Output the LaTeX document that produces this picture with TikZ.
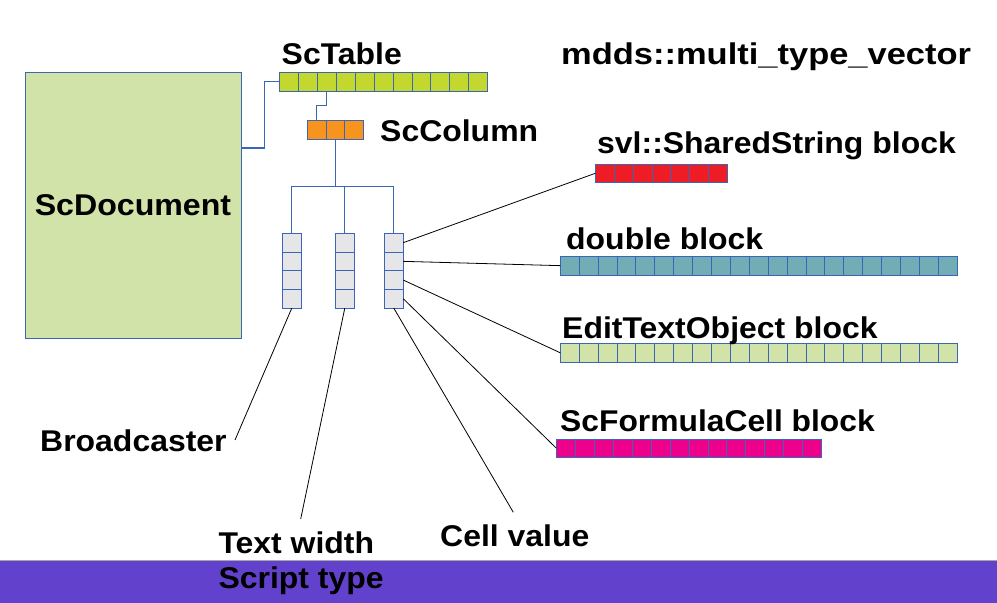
\documentclass[tikz,border=0pt]{standalone}
\usepackage{fontspec}
\usepackage{graphicx}
\setmainfont{Liberation Sans}
\definecolor{edge}{HTML}{3A66B5}
\definecolor{docfill}{HTML}{D1E3A8}
\definecolor{tabfill}{HTML}{C3D82E}
\definecolor{colfill}{HTML}{F7941D}
\definecolor{stackfill}{HTML}{E6E6E8}
\definecolor{ssfill}{HTML}{EE1C25}
\definecolor{dblfill}{HTML}{72ACB4}
\definecolor{etofill}{HTML}{D1E3A8}
\definecolor{fcfill}{HTML}{EC008C}
\definecolor{barfill}{HTML}{6242CC}
\newcommand{\wtxt}[2][1.065]{\scalebox{#1}[1]{#2}}
\tikzset{
  cellbox/.style={draw=edge, line width=0.9pt, inner sep=0, outer sep=0, anchor=north west},
  tree/.style={draw=edge, line width=1.1pt},
  link/.style={draw=black, line width=0.8pt},
  lbl/.style={anchor=base west, inner sep=0, font=\bfseries\fontsize{30}{36}\selectfont},
}
% name, x, ytop, cell width, height, n, colour
\newcommand{\cellrow}[7]{%
  \foreach \i in {1,...,#6} {%
    \node[cellbox, fill=#7, minimum width=#4pt, minimum height=#5pt] (#1-\i) at ({#2+(\i-1)*#4}, #3) {};
  }%
}
\newcommand{\cellcol}[7]{%
  \foreach \i in {1,...,#6} {%
    \node[cellbox, fill=#7, minimum width=#4pt, minimum height=#5pt] (#1-\i) at (#2, {#3+(\i-1)*#5}) {};
  }%
}
\begin{document}
\begin{tikzpicture}[x=1pt, y=-1pt]
\useasboundingbox (0,0) rectangle (997,603);
% bottom bar
\fill[barfill] (0,560) rectangle (997,603);
\draw[gray!70, line width=0.8pt] (0,560.4) -- (997,560.4);

% ScDocument
\node[draw=edge, line width=0.9pt, fill=docfill, minimum width=216pt, minimum height=266pt, inner sep=0,
      font=\bfseries\fontsize{30}{36}\selectfont] (doc) at (133,205) {\wtxt[1.071]{ScDocument}};

% ScTable
\cellrow{tab}{279.3}{72.3}{18.95}{19}{11}{tabfill}
\node[lbl] (tablbl) at (281.5,64.3) {\wtxt{ScTable}};
% ScColumn
\cellrow{col}{307.3}{120.3}{18.8}{19}{3}{colfill}
\node[lbl] (collbl) at (380,141) {\wtxt{ScColumn}};
% title
\node[lbl] (mdds) at (561,64.3) {\wtxt[1.149]{mdds::multi\_type\_vector}};

% stacks
\cellcol{sa}{282.3}{233.3}{19}{18.7}{4}{stackfill}
\cellcol{sb}{335.3}{233.3}{19}{18.7}{4}{stackfill}
\cellcol{sc}{384.3}{233.3}{19}{18.7}{4}{stackfill}

% blocks
\cellrow{ss}{595.3}{164.3}{18.9}{18}{7}{ssfill}
\cellrow{dbl}{560.3}{256}{18.9}{19.3}{21}{dblfill}
\cellrow{eto}{560.3}{343.3}{18.9}{19}{21}{etofill}
\cellrow{fc}{556.3}{439}{18.96}{18.3}{14}{fcfill}

\node[lbl] (sslbl) at (597,153) {\wtxt{svl::SharedString block}};
\node[lbl] (dbllbl) at (566,249) {\wtxt{double block}};
\node[lbl] (etolbl) at (562,338) {\wtxt{EditTextObject block}};
\node[lbl] (fclbl) at (560,431) {\wtxt[1.06]{ScFormulaCell block}};

\node[lbl] (bc) at (40,451) {\wtxt{Broadcaster}};
\node[lbl] (tw) at (218.3,553.3) {\wtxt{Text width}};
\node[lbl] (st) at (218.3,588.3) {\wtxt{Script type}};
\node[lbl] (cv) at (440,546) {\wtxt{Cell value}};

% tree connectors
\draw[tree] ([yshift=57pt]doc.east) -- ++(23,0) |- (tab-1.west);
\draw[tree] (tab-3.south) -- ++(0,14) -| (col-1.north);
\draw[tree] (col-2.south) -- ++(0,47) coordinate (br);
\draw[tree] (br) -| (sa-1.north);
\draw[tree] (br) -| (sc-1.north);
\draw[tree] (br -| sb-1.north) -- (sb-1.north);

% links to blocks
\draw[link] (sc-1.east) -- (ss-1.west);
\draw[link] (sc-2.east) -- (dbl-1.west);
\draw[link] (sc-3.east) -- (eto-1.west);
\draw[link] (sc-4.east) -- (fc-1.west);

% links to labels
\coordinate (bcend) at (235,440);
\coordinate (twend) at (300.7,519);
\coordinate (cvend) at (513.3,512.3);
\draw[link] (sa-4.south) -- (bcend);
\draw[link] (sb-4.south) -- (twend);
\draw[link] (sc-4.south) -- (cvend);
\end{tikzpicture}
\end{document}
